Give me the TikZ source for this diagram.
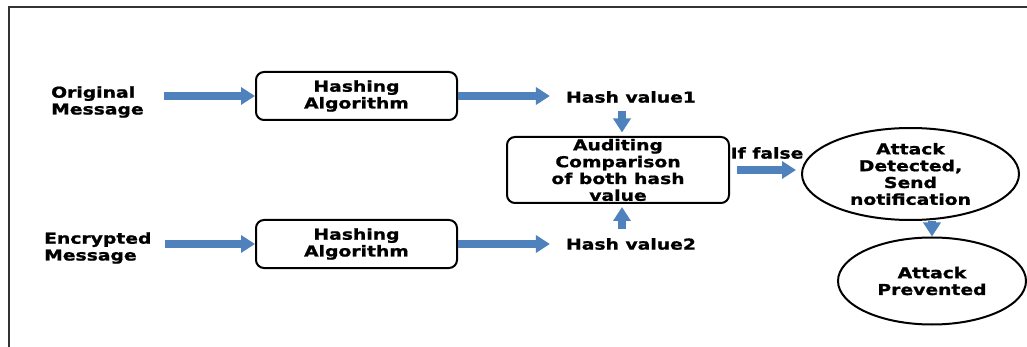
\documentclass[tikz,border=0pt]{standalone}
\usepackage{fontspec}
\setmainfont{DejaVu Sans}[FakeStretch=1.25,FakeBold=1.2]
\usetikzlibrary{arrows.meta,shapes.geometric}
\definecolor{arrowblue}{HTML}{4F81BD}

\begin{document}
\begin{tikzpicture}[x=1pt,y=-1pt,font=\fontsize{15}{16.8}\selectfont\bfseries,
        fat/.style={line width=7.5pt,arrowblue,-{Triangle[length=14pt,width=17pt]}},
        box/.style={rectangle,rounded corners=8pt,draw=black,line width=2pt,align=center,minimum width=201pt,minimum height=48pt},
        oval/.style={ellipse,draw=black,line width=2pt,align=center,inner xsep=0pt,inner ysep=-1.5pt},
        lbl/.style={inner sep=0pt,align=left}]
        \useasboundingbox (0,0) rectangle (1027,347);
        \draw[line width=2pt,black!80] (9,347) -- (9,7) -- (1027,7);
        \node[lbl,anchor=west] (orig) at (51,102) {Original\\Message};
        \node[lbl,anchor=west] (enc) at (44,248) {Encrypted\\Message};
        \node[box] (hash1) at (356.5,96) {Hashing\\Algorithm};
        \node[box] (hash2) at (356.5,244) {Hashing\\Algorithm};
        \node[lbl] (hv1) at (631,97) {Hash value1};
        \node[lbl] (hv2) at (631,244) {Hash value2};
        \node[box,inner sep=0pt,minimum width=222pt,minimum height=66pt] (audit) at (618,170) {Auditing\\Comparison\\of both hash\\value};
        \node[lbl] (iffalse) at (767,153) {If false};
        \node[oval,minimum width=217pt,minimum height=92pt] (det) at (910.5,174) {Attack\\Detected,\\Send\\notification};
        \node[oval,minimum width=188pt,minimum height=87pt] (prev) at (932,281) {Attack\\Prevented};
        \draw [fat,shorten <=20pt] (orig.east |- hash1.west) -- (hash1.west);
        \draw [fat,shorten <=13pt] (enc.east |- hash2.west) -- (hash2.west);
        \draw [fat,shorten >=16pt] (hash1.east) -- (hv1.west |- hash1.east);
        \draw [fat,shorten >=16pt] (hash2.east) -- (hv2.west);
        \draw [fat,shorten <=8pt,shorten >=3.5pt] ([xshift=4pt]hv1.south -| audit.north) -- ([xshift=4pt]audit.north);
        \draw [fat,shorten <=9pt,shorten >=3pt] ([xshift=4pt]hv2.north -| audit.south) -- ([xshift=4pt]audit.south);
        \draw [fat,shorten <=7pt,shorten >=5pt] (audit.east) -- (audit.east -| det.west);
        \draw [fat] (prev.north |- det.south) -- (prev.north);
    \end{tikzpicture}
\end{document}
